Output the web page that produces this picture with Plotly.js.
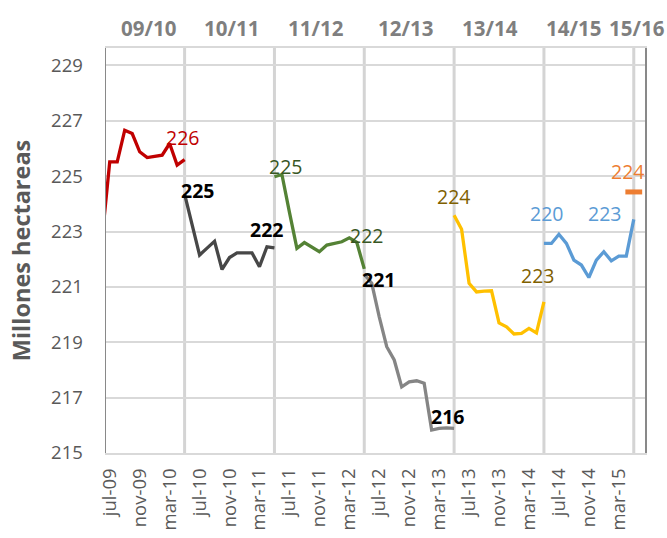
<!DOCTYPE html>
<html>
<head>
<meta charset="utf-8">
<script src="https://cdn.plot.ly/plotly-3.0.1.min.js"></script>
<style>html,body{margin:0;padding:0;background:#fff;}#chart{width:667px;height:538px;}</style>
</head>
<body>
<div id="chart"></div>
<script>
// ---- categories ----
const monthNames = ['ene','feb','mar','abr','may','jun','jul','ago','sep','oct','nov','dic'];
const months = [];
for (let i = 0; i < 73; i++) {            // jun-09 ... jun-15
  const m = (5 + i) % 12;
  const y = 9 + Math.floor((5 + i) / 12);
  months.push(monthNames[m] + '-' + String(y).padStart(2, '0'));
}
const tickLabels = ['jul-09','nov-09','mar-10','jul-10','nov-10','mar-11','jul-11','nov-11','mar-12',
                    'jul-12','nov-12','mar-13','jul-13','nov-13','mar-14','jul-14','nov-14','mar-15'];
const seasonStarts = ['may-10','may-11','may-12','may-13','may-14','may-15'];
const seasonNames = ['09/10','10/11','11/12','12/13','13/14','14/15','15/16'];

// ---- series (first month + monthly values, millones de hectáreas) ----
const start0910 = 'jun-09';
const v0910 = [222.8, 225.52, 225.52, 226.66, 226.54, 225.88, 225.67, 225.70, 225.76, 226.18, 225.40, 225.60];
const start1011 = 'may-10';
const v1011 = [224.35, 223.25, 222.15, 222.40, 222.65, 221.63, 222.06, 222.23, 222.23, 222.23, 221.73, 222.45, 222.41];
const start1112 = 'may-11';
const v1112 = [224.98, 225.06, 223.70, 222.39, 222.60, 222.43, 222.27, 222.51, 222.57, 222.63, 222.77, 222.61, 221.65];
const start1213 = 'may-12';
const v1213 = [221.45, 221.13, 219.92, 218.84, 218.36, 217.39, 217.57, 217.61, 217.52, 215.83, 215.89, 215.91, 215.89];
const start1314 = 'may-13';
const v1314 = [223.59, 223.08, 221.13, 220.82, 220.85, 220.86, 219.70, 219.56, 219.30, 219.32, 219.50, 219.34, 220.46];
const start1415 = 'may-14';
const v1415 = [222.57, 222.57, 222.90, 222.57, 221.97, 221.79, 221.34, 221.97, 222.27, 221.94, 222.11, 222.11, 223.44];
const start1516 = 'may-15';
const v1516 = [224.43];

// ---- data label texts ----
const labelSeries = ['0910','1011','1011','1112','1112','1213','1213','1314','1314','1415','1415','1516'];
const labelMonths = ['may-10','may-10','may-11','may-11','may-12','may-12','may-13','may-13','may-14','may-14','may-15','may-15'];
const labelTexts  = ['226','225','222','225','222','221','216','224','223','220','223','224'];

// ---- build ----
const FONT = 'Open Sans, Lato, sans-serif';
const series = {
  '0910': {start: start0910, v: v0910, color: '#C00000', label: '#C00000', bold: false},
  '1011': {start: start1011, v: v1011, color: '#474747', label: '#000000', bold: true},
  '1112': {start: start1112, v: v1112, color: '#548235', label: '#375623', bold: false},
  '1213': {start: start1213, v: v1213, color: '#858585', label: '#000000', bold: true},
  '1314': {start: start1314, v: v1314, color: '#FFC000', label: '#7F6000', bold: false},
  '1415': {start: start1415, v: v1415, color: '#5B9BD5', label: '#5B9BD5', bold: false},
  '1516': {start: start1516, v: v1516, color: '#ED7D31', label: '#ED7D31', bold: false}
};
function xs(s) { const i = months.indexOf(s.start); return months.slice(i, i + s.v.length); }

const traces = [];
for (const k of Object.keys(series)) {
  const s = series[k];
  if (s.v.length > 1) {
    traces.push({type: 'scatter', mode: 'lines', x: xs(s), y: s.v, name: k,
      line: {color: s.color, width: 3.3}, hoverinfo: 'skip'});
  } else {
    traces.push({type: 'scatter', mode: 'markers', x: xs(s), y: s.v, name: k,
      marker: {symbol: 'line-ew', size: 12, line: {color: s.color, width: 5}}, hoverinfo: 'skip'});
  }
}

// label offsets (px) relative to the anchoring point
const labelShift = [[-2,22],[13,4],[-8,18],[11,10],[2,33],[14,-5],[-7,12],[-1,19],[-6,26],[3,30],[-29,6],[-6,20]];
const annotations = [];
labelTexts.forEach((t, i) => {
  const s = series[labelSeries[i]];
  const xx = xs(s);
  const j = xx.indexOf(labelMonths[i]);
  annotations.push({xref: 'x', yref: 'y', x: months.indexOf(labelMonths[i]), y: s.v[j], text: t,
    showarrow: false, xanchor: 'center', yanchor: 'middle',
    xshift: labelShift[i][0], yshift: labelShift[i][1],
    font: {family: FONT, size: 19.5, color: s.label, weight: s.bold ? 'bold' : 'normal'}});
});
const seasonLabelX = [6.11, 17.2, 28.55, 40.44, 51.8, 62.9, 71.4];
seasonNames.forEach((t, i) => {
  annotations.push({xref: 'x', yref: 'paper', x: seasonLabelX[i], y: 1, yshift: 20, text: t,
    showarrow: false, xanchor: 'center', yanchor: 'middle',
    font: {family: FONT, size: 20.5, color: '#7F7F7F', weight: 'bold'}});
});

const shapes = seasonStarts.map(m => ({type: 'line', xref: 'x', yref: 'paper',
  x0: months.indexOf(m), x1: months.indexOf(m), y0: 0, y1: 1, layer: 'below',
  line: {color: '#D4D4D4', width: 3}}));

const layout = {
  width: 667, height: 538,
  margin: {l: 106, r: 22, t: 48, b: 85, pad: 0},
  paper_bgcolor: '#fff', plot_bgcolor: '#fff',
  showlegend: false,
  font: {family: FONT, color: '#595959'},
  xaxis: {type: 'category', categoryorder: 'array', categoryarray: months,
    range: [0.5, 72.5], tickmode: 'array', tickvals: tickLabels, ticktext: tickLabels,
    tickangle: -90, ticks: '', showgrid: false, zeroline: false,
    showline: true, linecolor: '#D9D9D9', linewidth: 2, mirror: true,
    ticklabelstandoff: 6,
    tickfont: {family: FONT, size: 18.5, color: '#595959'}},
  yaxis: {range: [215, 229.63], tick0: 215, dtick: 2, ticks: '',
    showgrid: true, gridcolor: '#D9D9D9', gridwidth: 2, zeroline: false,
    showline: true, linecolor: '#898989', linewidth: 1.5, mirror: true,
    ticklabelstandoff: 18,
    tickfont: {family: FONT, size: 18.5, color: '#595959'},
    title: {text: 'Millones hectareas', standoff: 14,
      font: {family: FONT, size: 23.5, color: '#595959', weight: 'bold'}}},
  annotations: annotations,
  shapes: shapes
};

Plotly.newPlot('chart', traces, layout, {displayModeBar: false, staticPlot: true});
</script>
</body>
</html>
